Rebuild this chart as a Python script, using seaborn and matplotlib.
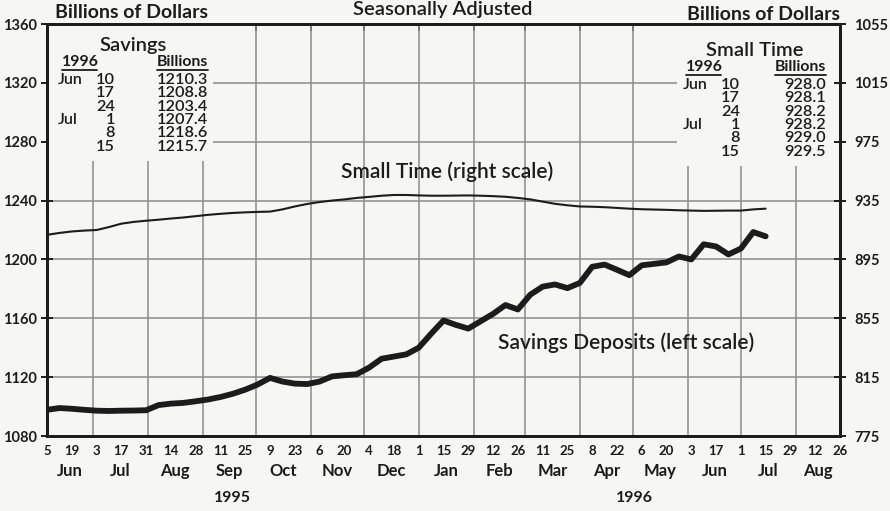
import pandas as pd
import matplotlib.pyplot as plt
import matplotlib.dates as mdates
import seaborn as sns
from matplotlib.patches import Rectangle

# weekly data, Jun 5 1995 - Jul 15 1996
weeks = pd.date_range('1995-06-05', '1996-07-15', freq='7D')
savings = [1097.8, 1099.0, 1098.5, 1097.8, 1097.2, 1097.0, 1097.2, 1097.3, 1097.5, 1101.0,
           1102.0, 1102.5, 1103.6, 1104.8, 1106.5, 1108.7, 1111.5, 1115.0, 1119.5, 1117.0,
           1115.6, 1115.3, 1117.0, 1120.5, 1121.3, 1122.0, 1126.5, 1132.5, 1134.0, 1135.5,
           1140.0, 1149.5, 1158.5, 1155.5, 1153.0, 1158.0, 1163.0, 1169.0, 1166.0, 1176.0,
           1181.5, 1183.0, 1180.5, 1184.0, 1195.0, 1196.5, 1193.0, 1189.3, 1196.0, 1197.0,
           1198.0, 1202.0, 1200.0, 1210.3, 1208.8, 1203.4, 1207.4, 1218.6, 1215.7]
small_time = [911.7, 913.0, 914.0, 914.6, 915.0, 917.0, 919.3, 920.5, 921.3, 922.0,
              922.8, 923.5, 924.4, 925.3, 926.0, 926.6, 927.0, 927.3, 927.5, 929.0,
              931.0, 932.7, 934.0, 935.0, 935.8, 936.8, 937.5, 938.3, 938.8, 938.8,
              938.5, 938.3, 938.3, 938.4, 938.5, 938.3, 938.0, 937.6, 936.8, 935.8,
              934.3, 932.8, 931.8, 931.0, 930.8, 930.5, 930.0, 929.5, 929.1, 928.9,
              928.7, 928.4, 928.2, 928.0, 928.1, 928.2, 928.2, 929.0, 929.5]

left_ticks = list(range(1080, 1361, 40))
right_ticks = list(range(775, 1056, 40))
x_start, x_end = pd.Timestamp('1995-06-05'), pd.Timestamp('1996-08-26')
x_ticks = pd.date_range(x_start, x_end, freq='14D')
minor_ticks = pd.date_range(x_start, x_end, freq='7D')
month_starts = pd.date_range('1995-07-01', '1996-08-01', freq='MS')
month_names = ['Jun', 'Jul', 'Aug', 'Sep', 'Oct', 'Nov', 'Dec',
               'Jan', 'Feb', 'Mar', 'Apr', 'May', 'Jun', 'Jul', 'Aug']
years = ['1995', '1996']

# latest figures tables
table_months = ['Jun', '', '', 'Jul', '', '']
table_days = ['10', '17', '24', '1', '8', '15']
savings_table = ['1210.3', '1208.8', '1203.4', '1207.4', '1218.6', '1215.7']
small_time_table = ['928.0', '928.1', '928.2', '928.2', '929.0', '929.5']

bg = '#f6f6f5'
ink = '#1c1c1c'
grid_c = '#8c8c8c'

sns.set_style('white')
plt.rcParams['font.family'] = ['Lato', 'DejaVu Sans']

fig = plt.figure(figsize=(8.9, 5.11), dpi=100, facecolor=bg)
ax = fig.add_axes([47 / 890, 1 - 436 / 511, 793 / 890, 412 / 511])
ax.set_facecolor(bg)

def fx(px):
    return px / 890

def fy(py):
    return 1 - py / 511

# grid
for d in month_starts:
    ax.axvline(d, color=grid_c, lw=1.1, zorder=1)
ax.set_yticks(left_ticks)
ax.grid(axis='y', color=grid_c, lw=1.1, zorder=1)

# blank boxes behind the tables
ax.add_patch(Rectangle((0, 0.667), 0.209, 0.34, transform=ax.transAxes,
                       facecolor=bg, edgecolor='none', zorder=2))
ax.add_patch(Rectangle((0.794, 0.655), 0.21, 0.35, transform=ax.transAxes,
                       facecolor=bg, edgecolor='none', zorder=2))

sns.lineplot(x=weeks, y=savings, ax=ax, color=ink, linewidth=4.2, zorder=4)
ax.set_ylim(1080, 1360)
ax.set_xlim(x_start, x_end)

ax2 = ax.twinx()
sns.lineplot(x=weeks, y=small_time, ax=ax2, color=ink, linewidth=1.5, zorder=4)
ax2.set_ylim(775, 1055)
ax2.set_yticks(right_ticks)
ax2.set_xlim(x_start, x_end)

for a in (ax, ax2):
    a.set_xlabel('')
    a.set_ylabel('')
    for s in a.spines.values():
        s.set_linewidth(2)
        s.set_color(ink)

ax.set_xticks(x_ticks)
ax.set_xticklabels([str(d.day) for d in x_ticks])
ax.set_xticks(minor_ticks, minor=True)
ax.tick_params(axis='x', which='major', direction='inout', length=7, width=1.4,
               colors=ink, labelsize=9.5, pad=3)
ax.tick_params(axis='x', which='minor', direction='in', length=4, width=1.2, colors=ink)
ax.tick_params(axis='y', direction='inout', length=8, width=1.4, colors=ink,
               labelsize=10.5, pad=3)
ax2.tick_params(axis='y', direction='inout', length=8, width=1.4, colors=ink,
                labelsize=10.5, pad=6)
for lab in ax.get_xticklabels() + ax.get_yticklabels() + ax2.get_yticklabels():
    lab.set_fontweight('bold')

top = ax.secondary_xaxis('top')
top.set_xticks(month_starts)
top.set_xticklabels([])
top.tick_params(direction='in', length=5, width=1.2, colors=ink)
top.spines['top'].set_visible(False)

# month and year labels
month_spans = [(max(x_start, m), min(x_end, m + pd.offsets.MonthBegin(1)))
               for m in pd.date_range('1995-06-01', '1996-08-01', freq='MS')]
for name, (a, b) in zip(month_names, month_spans):
    ax.text(a + (b - a) / 2, -0.085, name, transform=ax.get_xaxis_transform(),
            ha='center', va='center', fontsize=12, fontweight='bold', color=ink)
year_spans = [(x_start, pd.Timestamp('1996-01-01')),
              (pd.Timestamp('1996-01-01'), pd.Timestamp('1996-09-01'))]
for name, (a, b) in zip(years, year_spans):
    ax.text(a + (b - a) / 2, -0.15, name, transform=ax.get_xaxis_transform(),
            ha='center', va='center', fontsize=11.5, fontweight='bold', color=ink)

# headings
fig.text(fx(443), fy(9), 'Seasonally Adjusted', ha='center', va='center',
         fontsize=14.5, fontweight='semibold', color=ink)
fig.text(fx(55), fy(12), 'Billions of Dollars', ha='left', va='center',
         fontsize=14, fontweight='bold', color=ink)
fig.text(fx(840), fy(14), 'Billions of Dollars', ha='right', va='center',
         fontsize=14, fontweight='bold', color=ink)
fig.text(fx(447), fy(172), 'Small Time (right scale)', ha='center', va='center',
         fontsize=15, fontweight='semibold', color=ink, zorder=5)
fig.text(fx(626), fy(343), 'Savings Deposits (left scale)', ha='center', va='center',
         fontsize=15, fontweight='semibold', color=ink, zorder=5)

# tables
def table(title, cx, ty, x_year, x_month, x_day, x_val, values):
    fig.text(fx(cx), fy(ty), title, ha='center', va='center', fontsize=14.5,
             fontweight='semibold', color=ink)
    fig.text(fx(x_year), fy(ty + 17), '1996', ha='left', va='center', fontsize=11.4,
             fontweight='bold', color=ink)
    fig.text(fx(x_val), fy(ty + 17), 'Billions', ha='right', va='center', fontsize=11.4,
             fontweight='bold', color=ink)
    fig.add_artist(plt.Line2D([fx(x_year), fx(x_year + 35)], [fy(ty + 25)] * 2, color=ink, lw=1.3))
    fig.add_artist(plt.Line2D([fx(x_val - 51), fx(x_val)], [fy(ty + 25)] * 2, color=ink, lw=1.3))
    for i, (m, d, v) in enumerate(zip(table_months, table_days, values)):
        y = fy(ty + 35 + i * 13.3)
        fig.text(fx(x_month), y, m, ha='left', va='center', fontsize=11.5,
                 fontweight='semibold', color=ink)
        fig.text(fx(x_day), y, d, ha='right', va='center', fontsize=11.7,
                 fontweight='semibold', color=ink)
        fig.text(fx(x_val), y, v, ha='right', va='center', fontsize=11.7,
                 fontweight='semibold', color=ink)

table('Savings', 133, 45, 62, 58, 115, 208, savings_table)
table('Small Time', 755, 50, 686, 683, 740, 826, small_time_table)

fig.savefig('out.png', dpi=100, facecolor=bg)
